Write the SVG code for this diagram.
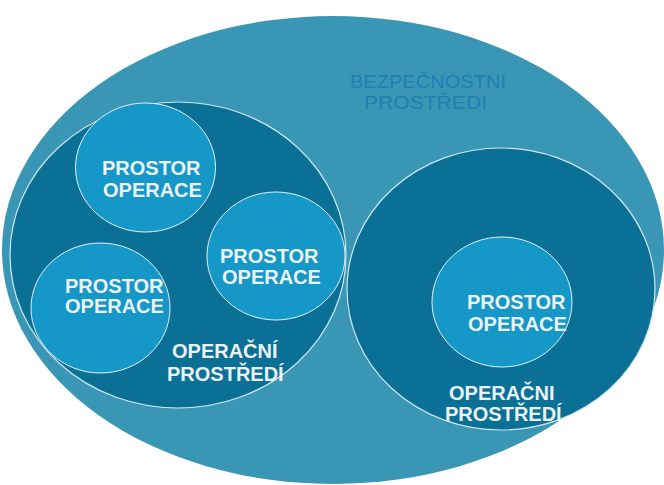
<svg xmlns="http://www.w3.org/2000/svg" width="664" height="485" viewBox="0 0 664 485">
<style>
.outer{fill:#3a96b5;}
.env{fill:#0a7096;stroke:#cfe7ef;stroke-width:1.2;}
.space{fill:#1597c7;stroke:#e2f1f5;stroke-width:1;}
.lbl{font-family:"Liberation Sans",Arial,sans-serif;font-weight:bold;font-size:20px;fill:#ecf2f2;}
.top{font-family:"Liberation Sans",Arial,sans-serif;font-size:19px;fill:#1d80b3;}
</style>
<rect width="664" height="485" fill="#ffffff"/>
<g id="bezpecnostni">
<ellipse class="outer" cx="333" cy="250" rx="331" ry="234"/>
<text class="top" x="350" y="88" textLength="156" lengthAdjust="spacingAndGlyphs">BEZPEČNOSTNI</text>
<text class="top" x="364" y="109" textLength="123" lengthAdjust="spacingAndGlyphs">PROSTŘEDI</text>
</g>
<g id="operacni-left">
<ellipse class="env" cx="178" cy="255" rx="168" ry="153"/>
<text class="lbl" x="172" y="358">OPERAČNÍ</text>
<text class="lbl" x="167" y="381">PROSTŘEDÍ</text>
</g>
<g id="operacni-right">
<ellipse class="env" cx="501" cy="289" rx="154" ry="141"/>
<text class="lbl" x="449" y="400">OPERAČNI</text>
<text class="lbl" x="445" y="421">PROSTŘEDÍ</text>
</g>
<g id="prostor-1">
<ellipse class="space" cx="145.5" cy="167.5" rx="70" ry="64.5"/>
<text class="lbl" x="102" y="175">PROSTOR</text>
<text class="lbl" x="103" y="197">OPERACE</text>
</g>
<g id="prostor-2">
<ellipse class="space" cx="276" cy="256" rx="69" ry="64"/>
<text class="lbl" x="220" y="263">PROSTOR</text>
<text class="lbl" x="222" y="284">OPERACE</text>
</g>
<g id="prostor-3">
<ellipse class="space" cx="100.5" cy="308" rx="69.5" ry="65"/>
<text class="lbl" x="65" y="293">PROSTOR</text>
<text class="lbl" x="65" y="313">OPERACE</text>
</g>
<g id="prostor-4">
<ellipse class="space" cx="502" cy="302" rx="70" ry="65"/>
<text class="lbl" x="467" y="309">PROSTOR</text>
<text class="lbl" x="468" y="331">OPERACE</text>
</g>
<g id="connectors"/>
</svg>
